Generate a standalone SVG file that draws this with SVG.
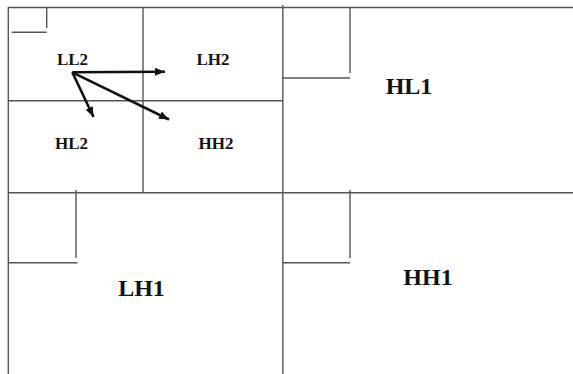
<svg xmlns="http://www.w3.org/2000/svg" width="573" height="374" viewBox="0 0 573 374">
<style>
.ln{stroke:#555;stroke-width:1.4;fill:none}
.sm{font-family:"Liberation Serif","Times New Roman",serif;font-weight:bold;font-size:17px;fill:#111;text-anchor:middle}
.lg{font-family:"Liberation Serif","Times New Roman",serif;font-weight:bold;font-size:24px;fill:#111;text-anchor:middle}
.ar{stroke:#111;stroke-width:2.6;fill:none;marker-end:url(#ah)}
</style>
<defs>
<marker id="ah" viewBox="0 0 10 8" refX="10" refY="4" markerWidth="10" markerHeight="8" markerUnits="userSpaceOnUse" orient="auto">
<path d="M0,0 L10,4 L0,8 Z" fill="#111"/>
</marker>
</defs>
<rect width="573" height="374" fill="#fff"/>
<g id="grid">
<line class="ln" x1="8" y1="7.5" x2="573" y2="7.5"/>
<line class="ln" x1="8.3" y1="7" x2="8.3" y2="374"/>
<line class="ln" x1="282.8" y1="5" x2="282.8" y2="374"/>
<line class="ln" x1="8" y1="192.7" x2="573" y2="192.7"/>
<line class="ln" x1="143" y1="7" x2="143" y2="193"/>
<line class="ln" x1="8" y1="100.7" x2="283" y2="100.7"/>
</g>
<g id="LL2">
<line class="ln" x1="46.7" y1="7" x2="46.7" y2="28"/>
<line class="ln" x1="11.7" y1="32.3" x2="46.7" y2="32.3"/>
<text class="sm" x="72.5" y="65">LL2</text>
</g>
<g id="LH2"><text class="sm" x="213" y="65">LH2</text></g>
<g id="HL2"><text class="sm" x="71.5" y="149">HL2</text></g>
<g id="HH2"><text class="sm" x="216" y="149">HH2</text></g>
<g id="HL1">
<line class="ln" x1="350" y1="7" x2="350" y2="73"/>
<line class="ln" x1="283" y1="78" x2="350" y2="78"/>
<text class="lg" x="409" y="94">HL1</text>
</g>
<g id="LH1">
<line class="ln" x1="76" y1="190" x2="76" y2="258"/>
<line class="ln" x1="8" y1="262.7" x2="77.5" y2="262.7"/>
<text class="lg" x="141.5" y="296">LH1</text>
</g>
<g id="HH1">
<line class="ln" x1="350" y1="190" x2="350" y2="258"/>
<line class="ln" x1="283" y1="262.7" x2="350" y2="262.7"/>
<text class="lg" x="428" y="284.5">HH1</text>
</g>
<g id="connectors">
<line class="ar" x1="72.3" y1="72.3" x2="165" y2="71.7"/>
<line class="ar" x1="72.3" y1="72.3" x2="93.5" y2="117"/>
<line class="ar" x1="72.3" y1="72.3" x2="169" y2="119.5"/>
</g>
</svg>
